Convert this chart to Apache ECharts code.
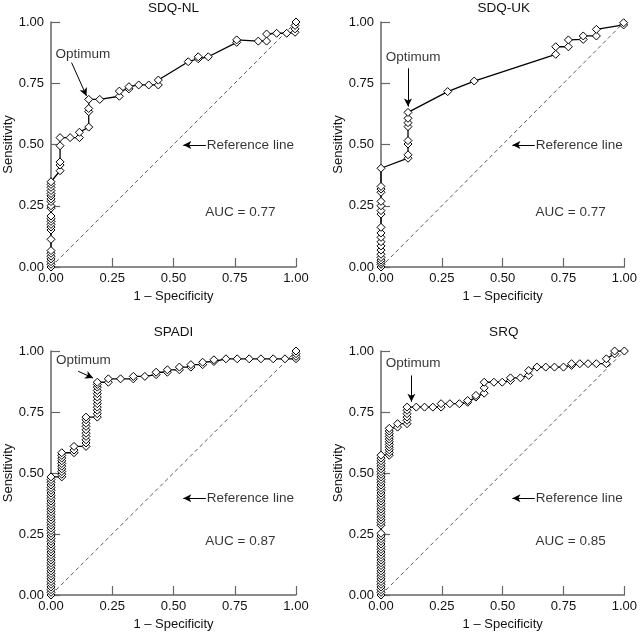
<!DOCTYPE html>
<html>
<head>
<meta charset="utf-8">
<script src="https://cdn.jsdelivr.net/npm/echarts@6/dist/echarts.min.js"></script>
<style>html,body{margin:0;padding:0;background:#fff}#c{width:640px;height:636px}</style>
</head>
<body>
<div id="c"></div>
<script>
// ---------- DATA ----------
const panelTitles = ['SDQ-NL', 'SDQ-UK', 'SPADI', 'SRQ'];
const aucLabels = ['AUC = 0.77', 'AUC = 0.77', 'AUC = 0.87', 'AUC = 0.85'];
const tickLabels = ['0.00', '0.25', '0.50', '0.75', '1.00'];
const xAxisName = '1 – Specificity';
const yAxisName = 'Sensitivity';
const refLine = [[0, 0], [1, 1]];

const sdqNL = [
  [0,0],[0,0.011],[0,0.022],[0,0.033],[0,0.044],[0,0.056],[0,0.067],[0,0.113],[0,0.151],[0,0.163],
  [0,0.174],[0,0.186],[0,0.197],[0,0.208],[0,0.240],[0,0.250],[0,0.267],[0,0.278],[0,0.290],[0,0.300],
  [0,0.312],[0,0.325],[0,0.337],[0,0.348],
  [0.037,0.393],[0.037,0.416],[0.037,0.429],[0.037,0.495],[0.037,0.528],
  [0.078,0.528],[0.116,0.528],[0.116,0.550],[0.154,0.571],[0.154,0.634],[0.154,0.647],[0.154,0.684],
  [0.199,0.684],[0.279,0.697],[0.279,0.718],[0.318,0.727],[0.318,0.736],[0.358,0.743],[0.399,0.743],
  [0.438,0.743],[0.438,0.763],[0.560,0.838],[0.601,0.850],[0.601,0.858],[0.642,0.858],[0.758,0.917],
  [0.758,0.927],[0.846,0.922],[0.880,0.922],[0.880,0.951],[0.921,0.954],[0.962,0.954],[0.996,0.958],
  [0.996,0.972],[0.996,0.986],[1,1]
];

const sdqUK = [
  [0,0],[0,0.011],[0,0.019],[0,0.028],[0,0.039],[0,0.052],[0,0.069],[0,0.086],[0,0.103],[0,0.121],
  [0,0.139],[0,0.162],[0,0.216],[0,0.230],[0,0.250],[0,0.268],[0,0.305],[0,0.318],[0,0.329],[0,0.403],
  [0.111,0.444],[0.111,0.458],[0.111,0.502],[0.111,0.516],[0.111,0.573],[0.111,0.589],[0.111,0.607],[0.111,0.631],
  [0.274,0.716],[0.383,0.759],[0.718,0.868],[0.718,0.899],[0.770,0.899],[0.770,0.927],[0.831,0.929],
  [0.831,0.943],[0.885,0.943],[0.885,0.970],[0.997,0.988],[0.997,0.997]
];

const spadi = [
  [0,0],[0,0.011],[0,0.022],[0,0.033],[0,0.044],[0,0.055],[0,0.066],[0,0.077],[0,0.088],[0,0.099],
  [0,0.110],[0,0.121],[0,0.132],[0,0.143],[0,0.154],[0,0.165],[0,0.176],[0,0.187],[0,0.198],[0,0.209],
  [0,0.220],[0,0.231],[0,0.242],[0,0.253],[0,0.264],[0,0.275],[0,0.286],[0,0.297],[0,0.308],[0,0.319],
  [0,0.330],[0,0.341],[0,0.352],[0,0.363],[0,0.374],[0,0.385],[0,0.396],[0,0.407],[0,0.418],[0,0.429],
  [0,0.440],[0,0.451],[0,0.462],[0,0.473],[0,0.484],
  [0.044,0.484],[0.044,0.495],[0.044,0.506],[0.044,0.517],[0.044,0.528],[0.044,0.539],[0.044,0.550],
  [0.044,0.561],[0.044,0.572],[0.044,0.583],
  [0.094,0.583],[0.094,0.594],[0.094,0.609],
  [0.143,0.609],[0.143,0.623],[0.143,0.636],[0.143,0.650],[0.143,0.663],[0.143,0.677],[0.143,0.691],
  [0.143,0.704],[0.143,0.718],[0.143,0.729],
  [0.189,0.729],[0.189,0.743],[0.189,0.757],[0.189,0.770],[0.189,0.784],[0.189,0.797],[0.189,0.811],
  [0.189,0.825],[0.189,0.838],[0.189,0.852],[0.189,0.863],[0.189,0.872],
  [0.234,0.872],[0.234,0.886],[0.284,0.886],[0.336,0.886],[0.336,0.896],[0.383,0.896],[0.429,0.903],
  [0.429,0.913],[0.475,0.913],[0.475,0.923],[0.524,0.923],[0.524,0.934],[0.571,0.934],[0.571,0.944],
  [0.619,0.944],[0.619,0.954],[0.665,0.957],[0.665,0.964],[0.714,0.968],[0.760,0.968],[0.809,0.968],
  [0.857,0.968],[0.907,0.968],[0.955,0.968],[1,0.968],[1,0.978],[1,0.989],[1,1]
];

const srq = [
  [0,0],[0,0.011],[0,0.022],[0,0.033],[0,0.044],[0,0.055],[0,0.066],[0,0.077],[0,0.088],[0,0.099],
  [0,0.110],[0,0.121],[0,0.132],[0,0.143],[0,0.154],[0,0.165],[0,0.176],[0,0.187],[0,0.198],[0,0.209],
  [0,0.220],[0,0.231],[0,0.242],[0,0.253],[0,0.286],[0,0.297],[0,0.308],[0,0.319],[0,0.330],[0,0.341],
  [0,0.352],[0,0.363],[0,0.374],[0,0.385],[0,0.396],[0,0.407],[0,0.418],[0,0.429],[0,0.440],[0,0.451],
  [0,0.462],[0,0.473],[0,0.484],[0,0.495],[0,0.506],[0,0.517],[0,0.528],[0,0.539],[0,0.550],[0,0.561],
  [0,0.573],
  [0.034,0.573],[0.034,0.584],[0.034,0.595],[0.034,0.606],[0.034,0.617],[0.034,0.628],[0.034,0.639],
  [0.034,0.650],[0.034,0.661],[0.034,0.672],[0.034,0.683],
  [0.068,0.688],[0.068,0.702],[0.107,0.702],[0.107,0.716],[0.107,0.729],[0.107,0.743],[0.107,0.757],[0.107,0.770],
  [0.145,0.770],[0.179,0.770],[0.213,0.770],[0.247,0.770],[0.247,0.784],[0.283,0.784],[0.322,0.784],
  [0.356,0.790],[0.356,0.797],[0.390,0.811],[0.390,0.818],[0.424,0.827],[0.424,0.849],[0.424,0.872],
  [0.464,0.872],[0.498,0.872],[0.532,0.879],[0.532,0.890],[0.573,0.890],[0.607,0.900],[0.607,0.920],
  [0.641,0.934],[0.677,0.934],[0.713,0.934],[0.750,0.934],[0.783,0.941],[0.783,0.948],[0.817,0.948],
  [0.851,0.948],[0.885,0.948],[0.926,0.948],[0.926,0.968],[0.960,0.988],[0.960,1.0],[1,1]
];

const curves = [sdqNL, sdqUK, spadi, srq];

// ---------- LAYOUT (annotation positions in data space) ----------
const gridBoxes = [
  {left: 51, top: 22, width: 245, height: 245},
  {left: 381, top: 22, width: 245.5, height: 245},
  {left: 51, top: 351, width: 245, height: 244},
  {left: 381, top: 351, width: 245.5, height: 244}
];
const titleTops = [1, 1, 325, 325];
const optimumText = [[0.13, 0.87], [0.132, 0.856], [0.132, 0.961], [0.132, 0.948]];
const optimumArrow = [
  [[0.084, 0.834], [0.145, 0.698]],
  [[0.111, 0.811], [0.111, 0.655]],
  [[0.111, 0.917], [0.172, 0.889]],
  [[0.125, 0.900], [0.125, 0.792]]
];
const refTextPos = [[0.632, 0.498], [0.632, 0.498], [0.632, 0.397], [0.632, 0.397]];
const aucPos = [[0.63, 0.224], [0.635, 0.224], [0.63, 0.22], [0.635, 0.22]];

const FONT = 'Liberation Sans';
const TXT = '#000';
const AX = '#666';

const chart = echarts.init(document.getElementById('c'), null, {renderer: 'canvas'});

const grid = [], xAxis = [], yAxis = [], series = [];
gridBoxes.forEach((g, i) => {
  grid.push(Object.assign({containLabel: false}, g));
  const axisCommon = {
    type: 'value', gridIndex: i, min: 0, max: 1, interval: 0.25,
    axisLine: {show: true, lineStyle: {color: AX, width: 1.5}},
    axisTick: {show: true, inside: true, length: 9, lineStyle: {color: AX, width: 1.2}},
    splitLine: {show: false},
    axisLabel: {color: '#111', fontSize: 13, fontFamily: FONT,
      formatter: v => tickLabels[Math.round(v / 0.25)]},
    nameLocation: 'middle',
    nameTextStyle: {color: '#111', fontSize: 13, fontFamily: FONT}
  };
  xAxis.push(Object.assign({}, axisCommon, {name: xAxisName, nameGap: 23,
    axisLabel: Object.assign({}, axisCommon.axisLabel, {margin: 5})}));
  yAxis.push(Object.assign({}, axisCommon, {name: yAxisName, nameGap: 36,
    axisLabel: Object.assign({}, axisCommon.axisLabel, {margin: 7})}));

  // reference diagonal + annotation arrows
  series.push({
    type: 'line', xAxisIndex: i, yAxisIndex: i, data: refLine,
    showSymbol: false, silent: true, animation: false,
    lineStyle: {color: '#333', width: 0.8, type: [4, 3]},
    markLine: {
      silent: true, animation: false, symbol: ['none', 'arrow'], symbolSize: [6, 8],
      label: {show: false},
      lineStyle: {color: '#000', width: 1, type: 'solid'},
      data: [
        [{coord: optimumArrow[i][0]}, {coord: optimumArrow[i][1]}],
        [{coord: refTextPos[i]}, {coord: [0.54, refTextPos[i][1]]}]
      ]
    }
  });
  // ROC curve
  series.push({
    type: 'line', xAxisIndex: i, yAxisIndex: i, data: curves[i],
    symbol: 'diamond', symbolSize: 8, showAllSymbol: true, animation: false,
    lineStyle: {color: '#000', width: 1.3},
    itemStyle: {color: '#fff', borderColor: '#000', borderWidth: 1}
  });
  // text annotations
  series.push({
    type: 'scatter', xAxisIndex: i, yAxisIndex: i, symbolSize: 0, silent: true, animation: false,
    itemStyle: {color: '#000'},
    label: {show: true, color: TXT, fontSize: 13.5, fontFamily: FONT, formatter: p => p.name},
    data: [
      {name: 'Optimum', value: optimumText[i], label: {position: 'inside', color: TXT}},
      {name: 'Reference line', value: refTextPos[i], label: {position: 'right', distance: 1, color: TXT}},
      {name: aucLabels[i], value: aucPos[i], label: {position: 'right', distance: 0, color: TXT}}
    ]
  });
});

const titles = gridBoxes.map((g, i) => ({
  text: panelTitles[i], left: g.left + g.width / 2, top: titleTops[i], textAlign: 'center',
  textStyle: {color: '#111', fontSize: 13.5, fontWeight: 'normal', fontFamily: FONT}, padding: 0
}));

chart.setOption({
  animation: false,
  backgroundColor: '#fff',
  title: titles,
  grid, xAxis, yAxis, series
});
</script>
</body>
</html>
